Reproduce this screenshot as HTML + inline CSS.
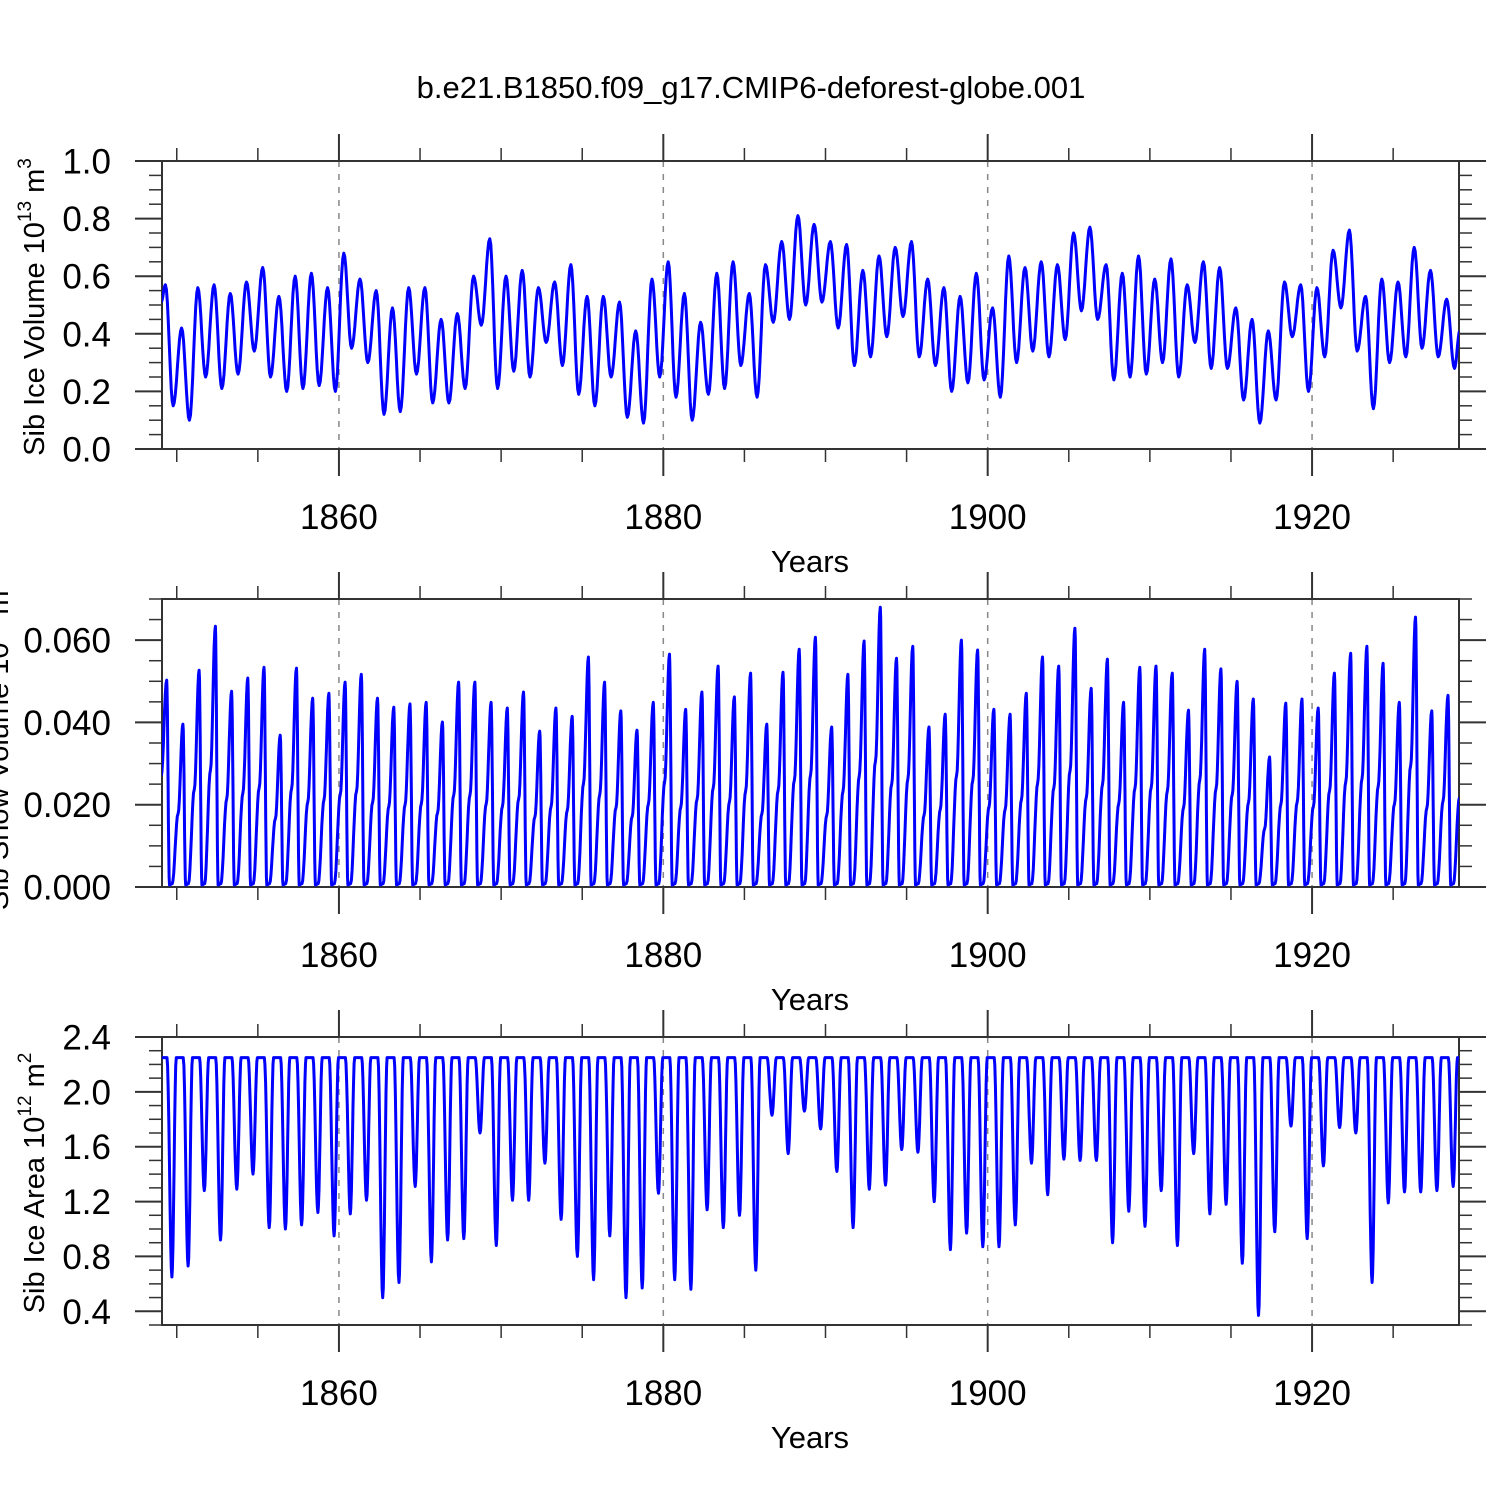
<!DOCTYPE html>
<html><head><meta charset="utf-8"><style>
body{margin:0;background:#fff}
svg text{font-family:"Liberation Sans",sans-serif;fill:#000}
</style></head><body>
<svg id="chart" width="1500" height="1500" viewBox="0 0 1500 1500" xmlns="http://www.w3.org/2000/svg">
<rect width="1500" height="1500" fill="#fff"/>
<text x="751" y="98" font-size="31" text-anchor="middle">b.e21.B1850.f09_g17.CMIP6-deforest-globe.001</text>
<defs>
<clipPath id="c1"><rect x="162" y="161" width="1297" height="288"/></clipPath>
<clipPath id="c2"><rect x="162" y="599" width="1297" height="288"/></clipPath>
<clipPath id="c3"><rect x="162" y="1037" width="1297" height="288"/></clipPath>
</defs>
<g id="g1"></g>
<g id="g2"></g>
<g id="g3"></g>
</svg>
<script>
// ---- data (per model year 1849..1928) ----
const years = Array.from({length:80},(_,i)=>1849+i);
const volPeak = [0.57,0.42,0.56,0.57,0.54,0.58,0.63,0.53,0.60,0.61,0.56,0.68,0.59,0.55,0.49,0.56,0.56,0.45,0.47,0.60,
0.73,0.60,0.62,0.56,0.58,0.64,0.53,0.53,0.51,0.41,0.59,0.65,0.54,0.44,0.61,0.65,0.54,0.64,0.72,0.81,
0.78,0.72,0.71,0.62,0.67,0.70,0.72,0.59,0.56,0.53,0.61,0.49,0.67,0.63,0.65,0.64,0.75,0.77,0.64,0.61,
0.67,0.59,0.66,0.57,0.65,0.63,0.49,0.45,0.41,0.58,0.57,0.56,0.69,0.76,0.53,0.59,0.58,0.70,0.62,0.52];
const volTrough = [0.15,0.10,0.25,0.21,0.26,0.34,0.25,0.20,0.21,0.22,0.20,0.35,0.30,0.12,0.13,0.26,0.16,0.16,0.21,0.43,
0.21,0.27,0.25,0.37,0.29,0.19,0.15,0.25,0.11,0.09,0.25,0.18,0.10,0.19,0.21,0.29,0.18,0.44,0.45,0.50,
0.51,0.42,0.29,0.32,0.39,0.46,0.32,0.29,0.20,0.23,0.24,0.18,0.30,0.34,0.32,0.38,0.48,0.45,0.24,0.25,
0.26,0.30,0.25,0.37,0.28,0.28,0.17,0.09,0.17,0.39,0.20,0.32,0.49,0.34,0.14,0.30,0.32,0.35,0.32,0.28];
const volStart = 0.51, volEnd = 0.41;
const snowPeak = [0.0503,0.0396,0.0527,0.0634,0.0476,0.0508,0.0534,0.0369,0.0532,0.0459,0.0471,0.0498,0.0517,0.0459,0.0437,0.0445,0.0449,0.0401,0.0498,0.0498,
0.0449,0.0435,0.0474,0.0379,0.0435,0.0415,0.0559,0.0498,0.0428,0.0381,0.0449,0.0566,0.0432,0.0474,0.0537,0.0462,0.0520,0.0396,0.0522,0.0578,
0.0607,0.0389,0.0517,0.0598,0.0680,0.0556,0.0585,0.0389,0.0420,0.0600,0.0576,0.0432,0.0420,0.0471,0.0559,0.0537,0.0629,0.0483,0.0554,0.0449,
0.0534,0.0537,0.0520,0.0430,0.0578,0.0530,0.0500,0.0457,0.0316,0.0447,0.0457,0.0435,0.0520,0.0568,0.0585,0.0544,0.0449,0.0656,0.0428,0.0466];
const snowStart = 0.027, snowEnd = 0.0216;
const areaMax = 2.25;
const areaTrough = [0.65,0.73,1.28,0.92,1.29,1.40,1.01,1.00,1.03,1.12,0.95,1.11,1.21,0.50,0.61,1.31,0.76,0.92,0.93,1.70,
0.88,1.21,1.21,1.48,1.07,0.80,0.63,0.95,0.50,0.57,1.26,0.63,0.56,1.14,1.01,1.10,0.70,1.83,1.55,1.86,
1.73,1.42,1.01,1.29,1.32,1.58,1.56,1.20,0.85,0.97,0.87,0.87,1.03,1.48,1.25,1.51,1.50,1.50,0.90,1.13,
1.02,1.28,0.88,1.55,1.11,1.18,0.75,0.37,0.98,1.75,0.93,1.46,1.74,1.70,0.61,1.19,1.27,1.27,1.28,1.31];
const xTicks = [1860,1880,1900,1920];
const yTicks1 = [0.0,0.2,0.4,0.6,0.8,1.0];
const yTicks2 = [0,0.02,0.04,0.06];
const yTicks3 = [0.4,0.8,1.2,1.6,2.0,2.4];

// ---- helpers ----
const NS="http://www.w3.org/2000/svg";
const X0=162,X1=1459,T0=1849.09,T1=1929.06;
const xs=t=>X0+(t-T0)/(T1-T0)*(X1-X0);
function mk(tag,attrs,parent){const e=document.createElementNS(NS,tag);for(const k in attrs)e.setAttribute(k,attrs[k]);parent.appendChild(e);return e;}
function interp(pts){
  let d="";
  for(let i=0;i<pts.length-1;i++){const [ta,va]=pts[i],[tb,vb]=pts[i+1];const n=8;
    for(let k=(i?1:0);k<=n;k++){const f=k/n,w=(1-Math.cos(Math.PI*f))/2;const t=ta+(tb-ta)*f,v=va+(vb-va)*w;d+=(d?"L":"M")+xs(t).toFixed(1)+","+pts.ys(v).toFixed(1);}}
  return d;}
function panel(g,top,vmin,vmax,yt,minorStep,fmt,title,titleX){
  const bot=top+288, ys=v=>bot-(v-vmin)/(vmax-vmin)*288;
  xTicks.forEach(t=>{const l=mk('line',{x1:xs(t),x2:xs(t),y1:top,y2:bot,stroke:'#888','stroke-width':1.5,'stroke-dasharray':'6,7'},g);
    });
  for(let yr=1850;yr<=1925;yr+=5){const major=xTicks.includes(yr);const L=major?27:13;
    mk('line',{x1:xs(yr),x2:xs(yr),y1:top-L,y2:top,stroke:'#333','stroke-width':major?2:1.5},g);
    mk('line',{x1:xs(yr),x2:xs(yr),y1:bot,y2:bot+L,stroke:'#333','stroke-width':major?2:1.5},g);}
  xTicks.forEach(t=>{const tx=mk('text',{x:xs(t),y:bot+80,'font-size':35,'text-anchor':'middle'},g);tx.textContent=t;
    });
  const xl=mk('text',{x:810,y:bot+123,'font-size':31,'text-anchor':'middle'},g);xl.textContent='Years';
  
  const nMin=Math.round((vmax-vmin)/minorStep);
  for(let i=0;i<=nMin;i++){const v=vmin+i*minorStep;const major=yt.some(m=>Math.abs(m-v)<1e-9);const L=major?27:13;const y=ys(v);
    mk('line',{x1:X0-L,x2:X0,y1:y,y2:y,stroke:'#333','stroke-width':major?2:1.5},g);
    mk('line',{x1:X1,x2:X1+L,y1:y,y2:y,stroke:'#333','stroke-width':major?2:1.5},g);}
  yt.forEach(v=>{const tx=mk('text',{x:111,y:ys(v)+12.5,'font-size':35,'text-anchor':'end'},g);tx.textContent=fmt(v);
    });
  const yl=mk('text',{transform:`translate(${titleX},${top+146}) rotate(-90)`,'font-size':29,'text-anchor':'middle'},g);yl.innerHTML=title;
  
  const fr=mk('rect',{x:X0,y:top,width:X1-X0,height:288,fill:'none',stroke:'#333','stroke-width':2},g);
  
  return ys;}
function series(g,pts,ys,clip){pts.ys=ys;const p=mk('path',{d:interp(pts),fill:'none',stroke:'#0000ff','stroke-width':3,'stroke-linejoin':'round','clip-path':`url(#${clip})`},g);
  }

const sup=(a,b)=>`${a}<tspan dy="-13" font-size="19">${b}</tspan><tspan dy="13"> m</tspan>`;
// panel 1
const g1=document.getElementById('g1');
const ys1=panel(g1,161,0,1,yTicks1,0.05,v=>v.toFixed(1),'Sib Ice Volume '+sup('10','13')+'<tspan dy="-13" font-size="19">3</tspan>',44);
const p1=[[T0-0.05,volStart]];
years.forEach((y,i)=>{p1.push([y+0.3,volPeak[i]]);p1.push([y+0.78,volTrough[i]]);});
p1.push([T1+0.05,volEnd]);
series(g1,p1,ys1,'c1');
// panel 2
const g2=document.getElementById('g2');
const ys2=panel(g2,599,0,0.07,yTicks2,0.005,v=>v.toFixed(3),'Sib Snow Volume '+sup('10','11')+'<tspan dy="-13" font-size="19">3</tspan>',8);
const p2=[[T0-0.05,snowStart]];
years.forEach((y,i)=>{p2.push([y+0.38,snowPeak[i]]);p2.push([y+0.55,0.0005]);p2.push([y+0.72,0.0008]);p2.push([y+1.08,snowPeak[i+1]!==undefined?snowPeak[i+1]*0.45:snowEnd]);});
p2.push([T1+0.05,snowEnd]);
series(g2,p2,ys2,'c2');
// panel 3
const g3=document.getElementById('g3');
const ys3=panel(g3,1037,0.3,2.4,yTicks3,0.1,v=>v.toFixed(1),'Sib Ice Area '+sup('10','12')+'<tspan dy="-13" font-size="19">2</tspan>',44);
const p3=[[T0-0.05,areaMax]];
years.forEach((y,i)=>{p3.push([y+0.4,areaMax]);p3.push([y+0.7,areaTrough[i]]);p3.push([y+0.97,areaMax]);});
p3.push([T1+0.05,areaMax]);
series(g3,p3,ys3,'c3');
</script>
</body></html>
